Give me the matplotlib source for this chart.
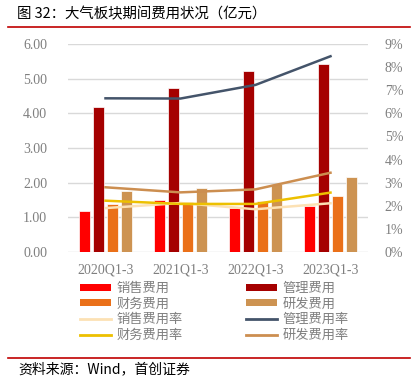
import matplotlib
matplotlib.use("Agg")
import matplotlib.pyplot as plt
import numpy as np
from matplotlib.lines import Line2D
from matplotlib.patches import Patch

plt.rcParams['font.family'] = ['Noto Sans CJK SC', 'DejaVu Sans']

categories = ["2020Q1-3", "2021Q1-3", "2022Q1-3", "2023Q1-3"]
sales = [1.19, 1.50, 1.28, 1.32]
admin = [4.19, 4.74, 5.23, 5.41]
finance = [1.38, 1.45, 1.46, 1.61]
rnd = [1.75, 1.84, 1.97, 2.16]
sales_rate = [1.90, 2.12, 1.85, 2.11]
admin_rate = [6.65, 6.64, 7.23, 8.47]
finance_rate = [2.22, 2.08, 2.08, 2.57]
rnd_rate = [2.80, 2.58, 2.71, 3.43]
left_ticks = [0, 1, 2, 3, 4, 5, 6]
right_ticks = [0, 1, 2, 3, 4, 5, 6, 7, 8, 9]

c_sales = "#FF0000"
c_admin = "#A50000"
c_fin = "#EA7019"
c_rnd = "#CD9352"
c_sales_r = "#FCE1B4"
c_fin_r = "#EDC000"
c_admin_r = "#44546A"
c_rnd_r = "#CC8E50"
gray = "#7F7F7F"

W, H = 413, 379
fig = plt.figure(figsize=(W / 100, H / 100), dpi=100)

ax = fig.add_axes([68 / W, 1 - 252 / H, 300 / W, 208 / H])
ax2 = ax.twinx()

x = np.arange(len(categories))
step = 0.184
bw = 0.15
series = [(sales, c_sales), (admin, c_admin), (finance, c_fin), (rnd, c_rnd)]
for i, (vals, col) in enumerate(series):
    ax.bar(x + (i - 1.5) * step, vals, width=bw, color=col, edgecolor="#FFFFFF",
           linewidth=0.5, zorder=3)

lines = [(sales_rate, c_sales_r), (finance_rate, c_fin_r),
         (admin_rate, c_admin_r), (rnd_rate, c_rnd_r)]
for vals, col in lines:
    ax2.plot(x, vals, color=col, linewidth=1.8, zorder=4)

ax.set_xlim(-0.5, 3.5)
ax.set_ylim(0, 6)
ax2.set_ylim(0, 9)
ax.set_yticks(left_ticks)
ax.set_yticklabels([f"{v:.2f}" for v in left_ticks])
ax2.set_yticks(right_ticks)
ax2.set_yticklabels([f"{v}%" for v in right_ticks])
ax.set_xticks(x)
ax.set_xticklabels(categories)

for a in (ax, ax2):
    for s in a.spines.values():
        s.set_visible(False)
    a.tick_params(length=0, colors=gray, labelsize=10)
    for t in a.get_xticklabels() + a.get_yticklabels():
        t.set_fontfamily("Liberation Serif")
        t.set_color(gray)
ax.tick_params(axis="y", pad=15)
ax2.tick_params(axis="y", pad=12)
ax.tick_params(axis="x", pad=8)
ax.grid(axis="y", color="#D9D9D9", linewidth=1, zorder=0)
ax.set_axisbelow(True)

# legend
handles = [
    Patch(facecolor=c_sales, label="销售费用"),
    Patch(facecolor=c_fin, label="财务费用"),
    Line2D([], [], color=c_sales_r, lw=2, label="销售费用率"),
    Line2D([], [], color=c_fin_r, lw=2, label="财务费用率"),
    Patch(facecolor=c_admin, label="管理费用"),
    Patch(facecolor=c_rnd, label="研发费用"),
    Line2D([], [], color=c_admin_r, lw=2, label="管理费用率"),
    Line2D([], [], color=c_rnd_r, lw=2, label="研发费用率"),
]
leg = fig.legend(handles=handles, ncol=2, loc="upper left",
                 bbox_to_anchor=(80 / W, 1 - 282 / H), frameon=False,
                 prop={"size": 9.5, "weight": "light"},
                 handlelength=2.35, handleheight=0.45,
                 handletextpad=0.4, columnspacing=4.8, labelspacing=0.2,
                 borderpad=0, borderaxespad=0)
for t in leg.get_texts():
    t.set_color(gray)

# title and decorations
fig.text(17 / W, 1 - 14 / H, "图 32：大气板块期间费用状况（亿元）", fontsize=10.4,
         va="center", ha="left", color="#000000")
fig.add_artist(Line2D([8 / W, 410 / W], [1 - 26.5 / H] * 2, color="#C00000", lw=1.2))
fig.add_artist(Line2D([8 / W, 410 / W], [1 - 358 / H] * 2, color="#C00000", lw=1.2))
fig.text(18 / W, 1 - 369 / H, "资料来源：Wind，首创证券", fontsize=10,
         va="center", ha="left", color="#000000")

fig.savefig("out.png", dpi=100)
